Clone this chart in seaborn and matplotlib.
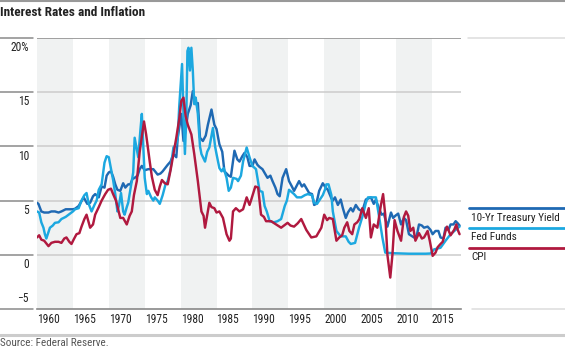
import matplotlib
matplotlib.use("Agg")
import matplotlib.pyplot as plt
from matplotlib.lines import Line2D
from matplotlib import font_manager as fm
import seaborn as sns
import pandas as pd

# ---------------- data ----------------
t10_years = [1960.0, 1960.2, 1960.6, 1961.0, 1961.6, 1962.0, 1962.5, 1963.0, 1963.4, 1964.0,
             1964.4, 1965.0, 1965.3, 1965.8, 1966.2, 1966.5, 1967.0, 1967.4, 1967.8, 1968.1,
             1968.6, 1969.0, 1969.4, 1969.7, 1970.0, 1970.3, 1970.6, 1970.9, 1971.2, 1971.6,
             1972.0, 1972.3, 1972.7, 1973.0, 1973.3, 1973.6, 1974.0, 1974.3, 1974.6, 1975.0,
             1975.5, 1976.2, 1976.8, 1977.2, 1977.5, 1978.2, 1978.6, 1979.0, 1979.4, 1979.6,
             1980.1, 1980.4, 1980.7, 1981.0, 1981.4, 1981.7, 1982.1, 1982.4, 1982.7, 1983.1,
             1983.5, 1983.8, 1984.3, 1984.7, 1985.0, 1985.4, 1985.8, 1986.1, 1986.4, 1986.7,
             1987.0, 1987.5, 1987.9, 1988.2, 1988.6, 1988.9, 1989.3, 1989.6, 1990.0, 1990.3,
             1990.7, 1991.0, 1991.4, 1992.1, 1992.5, 1992.8, 1993.2, 1993.5, 1993.8, 1994.2,
             1994.7, 1995.1, 1995.5, 1995.8, 1996.5, 1996.9, 1997.2, 1997.9, 1998.3, 1998.6,
             1998.9, 1999.3, 1999.8, 2000.2, 2000.5, 2001.0, 2001.2, 2001.5, 2001.9, 2002.3,
             2002.6, 2003.0, 2003.3, 2003.7, 2004.0, 2004.4, 2004.8, 2005.3, 2005.8, 2006.5,
             2006.9, 2007.2, 2007.6, 2008.0, 2008.3, 2008.8, 2009.3, 2009.6, 2009.9, 2010.3,
             2010.7, 2011.1, 2011.4, 2011.8, 2012.5, 2012.9, 2013.2, 2013.6, 2013.9, 2014.4,
             2014.8, 2015.1, 2015.5, 2015.9, 2016.2, 2016.6, 2016.9, 2017.3, 2017.6, 2018.0,
             2018.3, 2018.6, 2018.85]
t10_vals = [4.8, 4.7, 4.0, 3.9, 3.9, 4.0, 4.0, 3.9, 4.0, 4.2,
            4.2, 4.2, 4.25, 4.5, 4.95, 5.3, 4.7, 4.8, 5.4, 5.6,
            5.3, 6.3, 6.2, 7.3, 7.6, 7.7, 7.2, 6.5, 6.0, 5.9,
            6.6, 6.2, 6.5, 6.5, 7.0, 7.1, 7.3, 7.9, 8.2, 7.8,
            7.9, 7.9, 7.4, 7.5, 7.7, 8.3, 8.6, 9.3, 9.0, 10.8,
            13.0, 10.5, 11.5, 13.0, 13.8, 15.1, 13.9, 14.0, 10.8, 10.5,
            11.0, 12.0, 13.4, 12.0, 11.6, 10.2, 9.5, 7.7, 7.5, 7.3,
            7.2, 9.6, 8.8, 8.6, 9.1, 9.4, 9.0, 8.2, 8.2, 8.8,
            8.3, 8.1, 7.9, 7.1, 7.3, 6.8, 6.2, 5.6, 5.4, 7.1,
            7.9, 6.8, 6.3, 5.9, 6.8, 6.3, 6.5, 5.7, 5.6, 4.6,
            4.7, 5.9, 6.6, 6.2, 6.0, 5.2, 5.0, 5.3, 4.6, 5.1,
            4.3, 3.4, 3.9, 4.3, 4.0, 4.6, 4.2, 4.0, 5.1, 5.3,
            4.7, 5.1, 4.3, 3.7, 3.8, 2.6, 3.9, 3.4, 3.6, 3.8,
            2.8, 3.4, 3.2, 1.9, 1.6, 1.8, 2.8, 2.7, 2.5, 2.6,
            2.3, 1.9, 2.2, 2.2, 1.6, 1.5, 2.5, 2.3, 2.8, 2.8,
            3.1, 2.9, 2.7]

ff_years = [1960.0, 1960.3, 1960.6, 1960.9, 1961.1, 1961.3, 1961.6, 1961.8, 1962.2, 1962.5,
            1963.0, 1963.4, 1964.0, 1964.4, 1965.0, 1965.3, 1965.8, 1966.2, 1966.6, 1966.9,
            1967.2, 1967.6, 1968.0, 1968.3, 1968.6, 1969.0, 1969.4, 1969.7, 1970.0, 1970.2,
            1970.6, 1970.9, 1971.2, 1971.4, 1971.7, 1972.0, 1972.2, 1972.5, 1972.7, 1973.0,
            1973.4, 1973.6, 1974.1, 1974.4, 1974.6, 1974.8, 1975.0, 1975.3, 1975.5, 1975.9,
            1976.2, 1976.4, 1976.8, 1977.1, 1977.5, 1977.9, 1978.2, 1978.6, 1979.0, 1979.4,
            1979.6, 1979.8, 1980.2, 1980.4, 1980.6, 1980.8, 1980.95, 1981.1, 1981.3, 1981.5,
            1981.7, 1981.9, 1982.1, 1982.4, 1982.7, 1982.9, 1983.4, 1983.7, 1984.0, 1984.5,
            1984.8, 1985.0, 1985.4, 1985.7, 1986.0, 1986.4, 1986.7, 1987.0, 1987.3, 1987.8,
            1988.0, 1988.4, 1988.7, 1989.2, 1989.6, 1990.0, 1990.5, 1991.0, 1991.4, 1991.7,
            1992.0, 1992.4, 1993.0, 1993.5, 1994.0, 1994.5, 1994.8, 1995.1, 1995.8, 1996.2,
            1996.8, 1997.3, 1997.7, 1998.3, 1998.6, 1999.0, 1999.3, 1999.8, 2000.1, 2000.3,
            2000.6, 2001.0, 2001.2, 2001.7, 2002.3, 2003.0, 2003.4, 2003.7, 2004.3, 2004.85,
            2005.4, 2005.8, 2006.1, 2007.2, 2007.6, 2008.1, 2008.5, 2009.5, 2011.8, 2014.1,
            2014.8, 2015.3, 2016.2, 2016.9, 2017.6, 2018.3, 2018.85]
ff_vals = [4.0, 3.9, 3.0, 2.5, 1.9, 1.5, 2.1, 2.5, 2.7, 2.95,
           3.0, 3.3, 3.5, 3.7, 4.0, 4.2, 4.3, 5.0, 5.5, 5.7,
           4.7, 4.0, 4.6, 5.0, 6.0, 6.5, 8.5, 9.1, 9.0, 8.3,
           6.9, 5.6, 4.0, 4.5, 5.7, 4.0, 3.7, 4.4, 4.8, 6.0,
           7.6, 10.8, 9.0, 11.5, 13.0, 10.0, 7.1, 5.6, 5.9, 5.3,
           5.0, 5.3, 5.0, 4.7, 5.5, 6.5, 6.8, 7.9, 9.9, 10.2,
           10.8, 13.6, 17.6, 13.0, 9.3, 13.0, 18.8, 19.1, 17.0, 19.1,
           17.0, 13.9, 14.5, 13.0, 10.0, 9.3, 8.6, 9.5, 9.9, 11.7,
           10.0, 9.3, 8.0, 7.7, 8.0, 7.1, 5.9, 6.2, 7.1, 7.0,
           6.8, 7.3, 8.6, 9.9, 9.0, 8.2, 7.9, 5.9, 5.8, 4.5,
           4.0, 3.1, 3.0, 3.1, 3.3, 4.5, 5.0, 6.0, 5.6, 5.3,
           5.3, 5.5, 5.6, 5.5, 4.8, 4.7, 5.0, 5.5, 6.0, 6.5,
           6.5, 5.5, 4.0, 2.2, 1.7, 1.7, 1.2, 1.0, 1.1, 2.5,
           3.7, 4.8, 5.3, 5.3, 3.7, 1.6, 0.2, 0.15, 0.1, 0.1,
           0.12, 0.5, 0.65, 1.3, 1.9, 2.3, 2.6]

cpi_years = [1960.0, 1960.3, 1960.6, 1961.0, 1961.6, 1962.0, 1962.5, 1963.0, 1963.4, 1963.8,
             1964.1, 1964.5, 1964.8, 1965.1, 1965.5, 1965.9, 1966.2, 1966.6, 1966.9, 1967.4,
             1967.8, 1968.1, 1968.6, 1969.0, 1969.5, 1969.9, 1970.3, 1970.6, 1971.0, 1971.3,
             1971.6, 1972.0, 1972.5, 1972.9, 1973.2, 1973.5, 1973.9, 1974.3, 1974.6, 1974.9,
             1975.2, 1975.7, 1976.0, 1976.4, 1976.8, 1977.1, 1977.4, 1977.8, 1978.2, 1978.6,
             1979.0, 1979.4, 1979.8, 1980.1, 1980.4, 1980.7, 1981.0, 1981.5, 1981.9, 1982.4,
             1982.9, 1983.2, 1983.4, 1984.0, 1984.3, 1984.7, 1985.0, 1985.4, 1985.9, 1986.4,
             1986.8, 1987.0, 1987.3, 1987.7, 1988.2, 1988.7, 1989.2, 1989.6, 1989.8, 1990.4,
             1990.8, 1991.2, 1991.6, 1991.9, 1992.6, 1993.3, 1994.0, 1994.9, 1995.3, 1995.8,
             1996.3, 1996.8, 1997.5, 1998.2, 1998.9, 1999.6, 2000.0, 2000.4, 2000.7, 2001.2,
             2001.7, 2002.1, 2002.5, 2002.8, 2003.2, 2003.5, 2003.9, 2004.2, 2004.6, 2004.9,
             2005.3, 2005.8, 2006.2, 2006.5, 2006.9, 2007.4, 2007.9, 2008.2, 2008.5, 2008.8,
             2009.2, 2009.5, 2009.8, 2010.2, 2010.7, 2011.1, 2011.4, 2011.7, 2012.0, 2012.4,
             2012.7, 2013.2, 2013.6, 2013.9, 2014.4, 2014.7, 2015.1, 2015.5, 2015.8, 2016.2,
             2016.5, 2016.9, 2017.1, 2017.6, 2018.1, 2018.4, 2018.6, 2018.85]
cpi_vals = [1.6, 1.8, 1.4, 1.3, 0.8, 1.1, 1.2, 1.2, 1.1, 1.5,
            1.6, 1.2, 1.0, 1.4, 1.9, 2.0, 2.6, 3.3, 3.7, 2.5,
            2.8, 3.7, 4.4, 5.0, 5.6, 6.0, 6.1, 5.6, 5.0, 4.2,
            3.4, 3.4, 2.8, 3.6, 4.0, 5.5, 6.8, 9.5, 10.9, 12.3,
            11.1, 8.6, 7.2, 6.0, 5.5, 6.3, 6.9, 6.6, 6.5, 7.8,
            9.3, 10.8, 12.5, 14.2, 14.5, 12.8, 12.0, 11.1, 9.3, 6.8,
            4.0, 3.6, 2.5, 4.8, 4.4, 4.3, 3.9, 4.0, 3.4, 1.9,
            1.3, 1.5, 4.0, 4.3, 4.0, 4.2, 5.3, 4.6, 5.0, 6.3,
            6.2, 3.7, 3.5, 3.1, 3.1, 2.8, 2.5, 2.95, 2.7, 2.6,
            2.9, 3.3, 2.3, 1.6, 1.7, 2.5, 3.7, 3.2, 3.4, 3.3,
            1.3, 1.6, 1.8, 2.5, 3.0, 2.2, 1.9, 2.8, 3.0, 3.3,
            4.3, 3.4, 4.3, 1.6, 2.8, 2.5, 4.6, 5.6, 3.7, 0.0,
            -2.1, 0.0, 3.2, 2.2, 1.3, 3.5, 4.0, 3.6, 2.2, 2.5,
            1.3, 2.0, 1.5, 1.6, 2.2, 1.3, -0.1, 0.2, 0.7, 1.0,
            1.2, 2.2, 2.6, 1.8, 2.3, 2.8, 2.3, 1.9]

series_names = ["10-Yr Treasury Yield", "Fed Funds", "CPI"]
series_colors = ["#1f69b3", "#1ca8e0", "#b0193f"]
x_ticks = [1960, 1965, 1970, 1975, 1980, 1985, 1990, 1995, 2000, 2005, 2010, 2015]
x_tick_labels = [str(v) for v in x_ticks]
y_ticks = [-5, 0, 5, 10, 15, 20]
y_tick_labels = ["\u22125", "0", "5", "10", "15", "20%"]
band_starts = [1960, 1970, 1980, 1990, 2000, 2010]
title_text = "Interest Rates and Inflation"
source_text = "Source: Federal Reserve."

df = pd.concat([
    pd.DataFrame({"year": t10_years, "value": t10_vals, "series": series_names[0]}),
    pd.DataFrame({"year": ff_years, "value": ff_vals, "series": series_names[1]}),
    pd.DataFrame({"year": cpi_years, "value": cpi_vals, "series": series_names[2]}),
], ignore_index=True)

# ---------------- fonts: prefer a narrow face ----------------
sns.set_style("white")
entries = fm.fontManager.ttflist
names = {f.name for f in entries}
stretch = "normal"
if "Liberation Sans Narrow" in names:
    fam = "Liberation Sans Narrow"
elif "Roboto Condensed" in names:
    fam = "Roboto Condensed"
elif any(f.name == "DejaVu Sans" and str(f.stretch) in ("condensed", "semi-condensed")
         for f in entries):
    fam = "DejaVu Sans"
    stretch = "condensed"
else:
    fam = "Roboto"
plt.rcParams["font.family"] = [fam, "DejaVu Sans"]
plt.rcParams["font.stretch"] = stretch
TXT = "#222222"

W, H = 565, 352
fig = plt.figure(figsize=(W / 100, H / 100), dpi=100)
renderer = fig.canvas.get_renderer()


def fit_size(s, target_px, weight="normal", base=10.0, cap=None):
    t = fig.text(0, 0, s, fontsize=base, fontweight=weight)
    w = t.get_window_extent(renderer).width
    t.remove()
    size = base * target_px / w
    if cap is not None:
        size = min(size, cap)
    return size


tick_fs = fit_size("1960", 22.5, cap=8.6)
legend_fs = fit_size(series_names[0], 89, cap=9.0)
title_fs = fit_size(title_text, 146, weight="bold", cap=9.8)
source_fs = fit_size(source_text, 108, cap=8.0)


def fx(px):
    return px / W


def fy(py):
    return 1 - py / H


ax_l, ax_r, ax_t, ax_b = 37, 461, 38, 309
ax = fig.add_axes([fx(ax_l), fy(ax_b), fx(ax_r - ax_l), fy(ax_t) - fy(ax_b)])

for b in band_starts:
    ax.axvspan(b, b + 5, color="#f0f2f2", lw=0, zorder=0)

for v in y_ticks[1:-1]:
    ax.axhline(v, color="#cccccc", lw=1.1, zorder=1)
ax.axhline(20, color="#999999", lw=1.3, zorder=1)

sns.lineplot(data=df, x="year", y="value", hue="series", hue_order=series_names,
             palette=series_colors, linewidth=1.75, ax=ax, legend=False,
             estimator=None, sort=False, zorder=3)

ax.set_xlim(1960, 2019.05)
ax.set_ylim(-5, 20)
ax.set_xlabel("")
ax.set_ylabel("")
for s in ["top", "right", "left"]:
    ax.spines[s].set_visible(False)
ax.spines["bottom"].set_color("#888888")
ax.spines["bottom"].set_linewidth(1.2)

ax.set_xticks(x_ticks)
ax.set_xticklabels(x_tick_labels, fontsize=tick_fs, color=TXT)
for lab in ax.get_xticklabels():
    lab.set_ha("left")
ax.tick_params(axis="x", length=0, pad=3)
ax.set_yticks([])

ytr = ax.get_yaxis_transform()
for v, lab in zip(y_ticks, y_tick_labels):
    if v == -5:
        ax.text(-0.019, v + 0.35, lab, transform=ytr, ha="right", va="bottom",
                fontsize=tick_fs, color=TXT)
    else:
        ax.text(-0.019, v - 0.3, lab, transform=ytr, ha="right", va="top",
                fontsize=tick_fs, color=TXT)

# left stubs of the gridlines
for v in y_ticks:
    py = ax_t + (20 - v) * (ax_b - ax_t) / 25
    fig.add_artist(Line2D([0, fx(33)], [fy(py), fy(py)], color="#8a8a8a", lw=1.1))

# frame lines
fig.add_artist(Line2D([0, 1], [fy(1), fy(1)], color="#999999", lw=1.5))
fig.add_artist(Line2D([0, 1], [fy(335), fy(335)], color="#cccccc", lw=2.2))
fig.add_artist(Line2D([fx(468), 1], [fy(38), fy(38)], color="#dddddd", lw=1.1))
fig.add_artist(Line2D([fx(472), 1], [fy(309), fy(309)], color="#dddddd", lw=1.1))

# title and source
fig.text(fx(0), fy(12), title_text, fontsize=title_fs, fontweight="bold",
         color=TXT, ha="left", va="center")
fig.text(fx(0), fy(343), source_text, fontsize=source_fs, color="#555555",
         ha="left", va="center")

# legend
leg_line_y = [208, 228, 248]
leg_text_y = [218, 237, 257]
for name, col, ly, ty in zip(series_names, series_colors, leg_line_y, leg_text_y):
    fig.add_artist(Line2D([fx(469), 1], [fy(ly), fy(ly)], color=col, lw=2.0))
    fig.text(fx(471), fy(ty), name, fontsize=legend_fs, color=TXT, ha="left", va="center")

fig.savefig("out.png", dpi=100)
